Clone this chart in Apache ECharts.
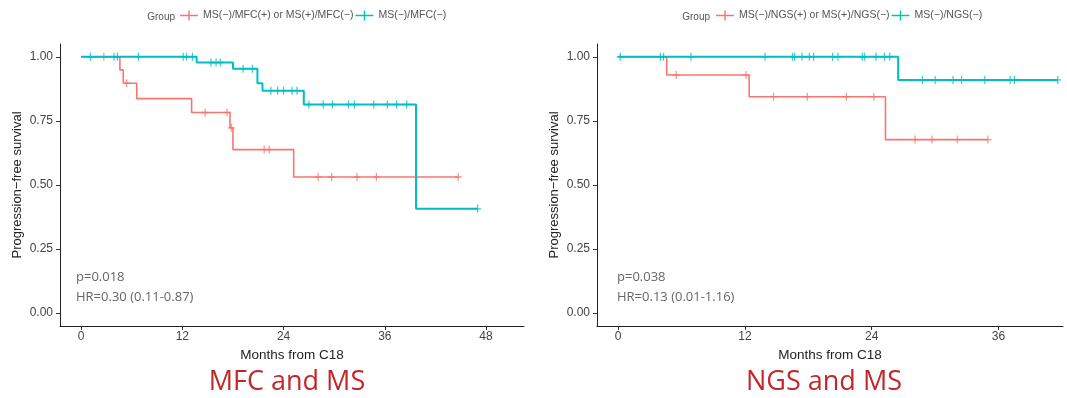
<!DOCTYPE html>
<html><head><meta charset="utf-8">
<script src="https://cdn.jsdelivr.net/npm/echarts@6/dist/echarts.min.js"></script>
<style>html,body{margin:0;padding:0;background:#fff}#c{width:1067px;height:398px}</style>
</head><body><div id="c"></div>
<script>
// ---- Data ----
const legendNamesMFC = ['MS(−)/MFC(+) or MS(+)/MFC(−)', 'MS(−)/MFC(−)'];
const legendNamesNGS = ['MS(−)/NGS(+) or MS(+)/NGS(−)', 'MS(−)/NGS(−)'];
const yTicks = [0, 0.25, 0.5, 0.75, 1];
const xTicksMFC = [0, 12, 24, 36, 48];
const xTicksNGS = [0, 12, 24, 36];

// MFC panel, red group
const mfcPosTime = [0, 4.6, 5.0, 6.6, 13.1, 17.65, 18.0, 25.2, 44.7];
const mfcPosSurv = [1.0, 0.949, 0.897, 0.837, 0.783, 0.723, 0.638, 0.531, 0.531];
const mfcPosCensor = [2.7, 5.4, 14.7, 17.3, 17.8, 21.7, 22.3, 28.1, 29.7, 32.7, 35.0, 44.7];
// MFC panel, teal group
const mfcNegTime = [0, 13.7, 18.0, 20.9, 21.5, 26.4, 39.7, 47.0];
const mfcNegSurv = [1.0, 0.978, 0.953, 0.897, 0.868, 0.814, 0.407, 0.407];
const mfcNegCensor = [1.1, 3.9, 4.3, 6.8, 12.1, 12.5, 13.2, 15.4, 16.0, 16.5, 19.2, 20.3, 22.5, 23.3, 24.0, 25.0, 25.6, 27.0, 28.7, 29.8, 31.7, 32.4, 34.7, 36.3, 37.4, 38.6, 47.0];

// NGS panel, red group
const ngsPosTime = [0, 4.6, 12.4, 25.3, 35.0];
const ngsPosSurv = [1.0, 0.929, 0.844, 0.677, 0.677];
const ngsPosCensor = [5.5, 12.1, 14.7, 17.9, 21.6, 24.2, 28.1, 29.7, 32.1, 35.0];
// NGS panel, teal group
const ngsNegTime = [0, 26.5, 41.6];
const ngsNegSurv = [1.0, 0.910, 0.910];
const ngsNegCensor = [0.2, 4.0, 4.3, 6.9, 13.9, 16.5, 16.7, 17.4, 18.1, 18.5, 20.3, 20.8, 23.1, 23.3, 24.4, 25.2, 25.7, 28.8, 30.0, 31.7, 32.5, 34.7, 37.1, 37.5, 41.6];

const statsMFC = ['p=0.018', 'HR=0.30 (0.11-0.87)'];
const statsNGS = ['p=0.038', 'HR=0.13 (0.01-1.16)'];
const panelTitles = ['MFC and MS', 'NGS and MS'];

// ---- Build ----
const RED = '#F8766D', TEAL = '#00BFC4';
const PLUS = 'path://M3.3,0L4.7,0L4.7,3.3L8,3.3L8,4.7L4.7,4.7L4.7,8L3.3,8L3.3,4.7L0,4.7L0,3.3L3.3,3.3Z';
const LEGEND_ICON = 'path://M0,4.3L18,4.3L18,5.7L0,5.7Z M8.3,0L9.7,0L9.7,10L8.3,10Z';

function zip(t, s) { return t.map((v, i) => [v, s[i]]); }
function survAt(t, s, x) { let v = s[0]; for (let i = 0; i < t.length; i++) { if (t[i] <= x) v = s[i]; } return v; }
function censorPts(t, s, c) { return c.map(x => [x, survAt(t, s, x)]); }

function stepSeries(name, idx, t, s, color, w, z) {
  return { name, type: 'line', xAxisIndex: idx, yAxisIndex: idx, step: 'end', symbol: 'none',
    data: zip(t, s), lineStyle: { color, width: w }, itemStyle: { color }, z, silent: true };
}
function censorSeries(name, idx, t, s, c, color, z) {
  return { name, type: 'scatter', xAxisIndex: idx, yAxisIndex: idx, symbol: PLUS, symbolSize: [7, 8],
    data: censorPts(t, s, c), itemStyle: { color }, z, silent: true };
}

const axisFont = 'Liberation Sans, Arial, sans-serif';
function xAxis(idx, min, max, ticks) {
  return { type: 'value', gridIndex: idx, min, max,
    axisLine: { onZero: false, lineStyle: { color: '#222', width: 1 } },
    axisTick: { show: true, length: 4, customValues: ticks, lineStyle: { color: '#333' } },
    axisLabel: { customValues: ticks, margin: 5, color: '#444', fontSize: 12, fontFamily: axisFont },
    splitLine: { show: false },
    name: 'Months from C18', nameLocation: 'middle', nameGap: 19,
    nameTextStyle: { fontSize: 13.5, color: '#222', fontFamily: axisFont } };
}
function yAxis(idx) {
  return { type: 'value', gridIndex: idx, min: -0.05, max: 1.05,
    axisLine: { show: true, onZero: false, lineStyle: { color: '#222', width: 1 } },
    axisTick: { show: true, length: 4, customValues: yTicks, lineStyle: { color: '#333' } },
    axisLabel: { customValues: yTicks, margin: 7, color: '#444', fontSize: 12, fontFamily: axisFont,
      formatter: v => v.toFixed(2) },
    splitLine: { show: false },
    name: 'Progression−free survival', nameLocation: 'middle', nameGap: 36, nameRotate: 90,
    nameTextStyle: { fontSize: 13, color: '#222', fontFamily: axisFont } };
}

const legendCommon = { orient: 'horizontal', itemWidth: 18, itemHeight: 10, itemGap: 2, padding: 0, icon: LEGEND_ICON,
  textStyle: { fontSize: 10.5, color: '#555', fontFamily: axisFont }, selectedMode: false };

const statFont = 'Open Sans, Lato, sans-serif';
function txt(x, y, text, opts) {
  return { type: 'text', x, y, silent: true, style: Object.assign({ text, fill: '#666', font: '13px ' + statFont,
    textAlign: 'left', textVerticalAlign: 'middle' }, opts || {}) };
}

const option = {
  animation: false,
  backgroundColor: '#fff',
  grid: [
    { left: 60, top: 44, width: 464, height: 282 },
    { left: 597, top: 44, width: 466, height: 282 }
  ],
  xAxis: [xAxis(0, -2.5, 52.5, xTicksMFC), xAxis(1, -2.0, 42.1, xTicksNGS)],
  yAxis: [yAxis(0), yAxis(1)],
  legend: [
    Object.assign({ data: legendNamesMFC, left: 180, top: 10 }, legendCommon),
    Object.assign({ data: legendNamesNGS, left: 716, top: 10 }, legendCommon)
  ],
  series: [
    stepSeries(legendNamesMFC[0], 0, mfcPosTime, mfcPosSurv, RED, 1.6, 2),
    censorSeries(legendNamesMFC[0], 0, mfcPosTime, mfcPosSurv, mfcPosCensor, RED, 3),
    stepSeries(legendNamesMFC[1], 0, mfcNegTime, mfcNegSurv, TEAL, 2, 4),
    censorSeries(legendNamesMFC[1], 0, mfcNegTime, mfcNegSurv, mfcNegCensor, TEAL, 5),
    stepSeries(legendNamesNGS[0], 1, ngsPosTime, ngsPosSurv, RED, 1.6, 2),
    censorSeries(legendNamesNGS[0], 1, ngsPosTime, ngsPosSurv, ngsPosCensor, RED, 3),
    stepSeries(legendNamesNGS[1], 1, ngsNegTime, ngsNegSurv, TEAL, 2, 4),
    censorSeries(legendNamesNGS[1], 1, ngsNegTime, ngsNegSurv, ngsNegCensor, TEAL, 5)
  ],
  graphic: [
    txt(175, 17, 'Group', { textAlign: 'right', font: '10px ' + axisFont, fill: '#555' }),
    txt(710, 17, 'Group', { textAlign: 'right', font: '10px ' + axisFont, fill: '#555' }),
    txt(76, 277, statsMFC[0]), txt(76, 297, statsMFC[1]),
    txt(617, 277, statsNGS[0]), txt(617, 297, statsNGS[1]),
    txt(287, 382, panelTitles[0], { textAlign: 'center', font: '27px ' + statFont, fill: '#c3272b' }),
    txt(824, 382, panelTitles[1], { textAlign: 'center', font: '27px ' + statFont, fill: '#c3272b' })
  ]
};

const chart = echarts.init(document.getElementById('c'), null, { renderer: 'canvas' });
chart.setOption(option);
</script></body></html>
